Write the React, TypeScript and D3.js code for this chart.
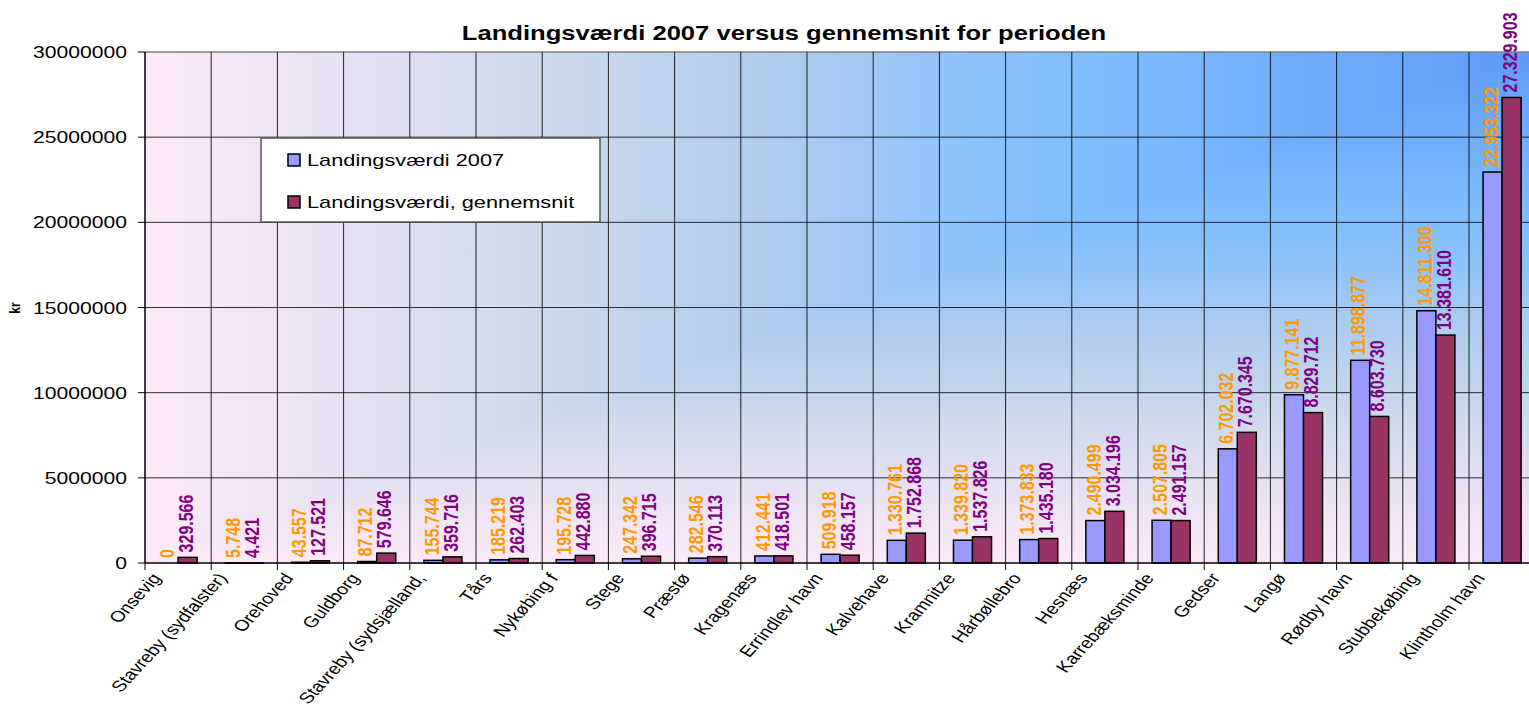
import React from "react";
import * as d3 from "d3";

// Landingsværdi 2007 vs. gennemsnit, grupperet søjlediagram

const categories = [
  "Onsevig",
  "Stavreby (sydfalster)",
  "Orehoved",
  "Guldborg",
  "Stavreby (sydsjælland,",
  "Tårs",
  "Nykøbing f",
  "Stege",
  "Præstø",
  "Kragenæs",
  "Errindlev havn",
  "Kalvehave",
  "Kramnitze",
  "Hårbøllebro",
  "Hesnæs",
  "Karrebæksminde",
  "Gedser",
  "Langø",
  "Rødby havn",
  "Stubbekøbing",
  "Klintholm havn",
];

const values2007 = [
  0, 5748, 43557, 87712, 155744, 185219, 195728, 247342, 282546, 412441, 509918,
  1330761, 1339820, 1373833, 2490499, 2507805, 6702032, 9877141, 11898877,
  14811300, 22953322,
];

const valuesAvg = [
  329566, 4421, 127521, 579646, 359716, 262403, 442880, 396715, 370113, 418501,
  458157, 1752868, 1537826, 1435180, 3034196, 2491157, 7670345, 8829712,
  8603730, 13381610, 27329903,
];

const seriesNames = ["Landingsværdi 2007", "Landingsværdi, gennemsnit"];
const yTicks = [0, 5000000, 10000000, 15000000, 20000000, 25000000, 30000000];

const W = 1529;
const H = 707;
const S = 1.28; // text is stretched horizontally like the source picture
const font = "'Liberation Sans', Arial, sans-serif";

const left = 145;
const top = 52;
const bottom = 563;
const right = 145 + 21 * 66.2;

const barFill = ["#9999FF", "#993366"];
const labelFill = ["#FF9900", "#800080"];

const fmt = (v: number) => d3.format(",")(v).replace(/,/g, ".");

const App = () => {
  const x = d3.scaleBand<string>().domain(categories).range([left, right]);
  const bw = x.bandwidth();
  const xSub = d3
    .scaleBand<number>()
    .domain([0, 1])
    .range([0, bw])
    .paddingOuter(0.74);
  const y = d3.scaleLinear().domain([0, 30000000]).range([bottom, top]);

  const series = [values2007, valuesAvg];
  const boundaries = d3.range(categories.length + 1).map((i) => left + i * bw);

  const pw = right - left;
  const ph = bottom - top;
  const stops = [
    [0, "#5C9CF8"],
    [0.25, "#78B6FD"],
    [0.4, "#8CC2FB"],
    [0.55, "#AFCDEF"],
    [0.7, "#CBD8EC"],
    [0.85, "#E6E1F3"],
    [1, "#FDEAF8"],
  ] as const;

  return (
    <svg
      width={W}
      height={H}
      style={{ position: "absolute", left: 0, top: 0, background: "#fff" }}
    >
      <defs>
        <linearGradient id="gh" x1="1" y1="0" x2="0" y2="0">
          {stops.map(([o, c]) => (
            <stop key={o} offset={o} stopColor={c} />
          ))}
        </linearGradient>
        <linearGradient id="gv" x1="0" y1="0" x2="0" y2="1">
          {stops.map(([o, c]) => (
            <stop key={o} offset={o} stopColor={c} />
          ))}
        </linearGradient>
        <clipPath id="lowerRight">
          <polygon points={`${right + 2},${top - 2} ${right + 2},${bottom} ${left},${bottom} ${left - 2},${bottom + 2}`} />
        </clipPath>
      </defs>

      {/* plot background: gradient from the top right corner */}
      <rect x={left} y={top} width={pw} height={ph} fill="url(#gh)" />
      <rect x={left} y={top} width={pw} height={ph} fill="url(#gv)" clipPath="url(#lowerRight)" />

      {/* grid */}
      {yTicks.slice(1, -1).map((t) => (
        <line key={t} x1={left} x2={right} y1={y(t)} y2={y(t)} stroke="#000" strokeOpacity={0.8} />
      ))}
      <line x1={left} x2={right} y1={y(30000000)} y2={y(30000000)} stroke="#808080" strokeWidth={1.5} />
      {boundaries.slice(1).map((b) => (
        <line key={b} x1={b} x2={b} y1={top} y2={bottom} stroke="#000" strokeOpacity={0.85} />
      ))}

      {/* bars */}
      {series.map((vals, s) =>
        vals.map((v, i) => (
          <rect
            key={`${s}-${i}`}
            x={(x(categories[i]) ?? 0) + (xSub(s) ?? 0)}
            y={y(v)}
            width={xSub.bandwidth()}
            height={bottom - y(v)}
            fill={barFill[s]}
            stroke="#000"
            strokeWidth={1.5}
          />
        ))
      )}

      {/* data labels */}
      {series.map((vals, s) =>
        vals.map((v, i) => {
          const cx = (x(categories[i]) ?? 0) + (xSub(s) ?? 0) + xSub.bandwidth() / 2 - 2;
          return (
            <text
              key={`l${s}-${i}`}
              transform={`translate(${cx},${y(v) - 5}) scale(${S},1) rotate(-90)`}
              dy="0.35em"
              fill={labelFill[s]}
              fontFamily={font}
              fontSize={16}
              fontWeight="bold"
            >
              {fmt(v)}
            </text>
          );
        })
      )}

      {/* axes */}
      <line x1={left} x2={left} y1={top} y2={bottom} stroke="#000" strokeWidth={1.5} />
      <line x1={left} x2={right} y1={bottom} y2={bottom} stroke="#000" strokeWidth={1.5} />
      {yTicks.map((t) => (
        <g key={t}>
          <line x1={left - 7} x2={left} y1={y(t)} y2={y(t)} stroke="#000" />
          <text
            transform={`translate(${left - 18},${y(t) + 6}) scale(${S},1)`}
            textAnchor="end"
            fontFamily={font}
            fontSize={16.5}
          >
            {t}
          </text>
        </g>
      ))}
      {boundaries.map((b) => (
        <line key={b} x1={b} x2={b} y1={bottom} y2={bottom + 7} stroke="#000" />
      ))}
      {categories.map((c) => (
        <text
          key={c}
          transform={`translate(${(x(c) ?? 0) + bw / 2 - 22},${bottom + 12}) scale(${S},1) rotate(-54)`}
          textAnchor="end"
          dy="0.35em"
          fontFamily={font}
          fontSize={15.5}
        >
          {c}
        </text>
      ))}

      <text
        transform={`translate(20,308) scale(${S},1) rotate(-90)`}
        textAnchor="middle"
        fontFamily={font}
        fontSize={12}
        fontWeight="bold"
      >
        kr
      </text>

      {/* title */}
      <text
        transform={`translate(784,40) scale(${S},1)`}
        textAnchor="middle"
        fontFamily={font}
        fontSize={20}
        fontWeight="bold"
      >
        Landingsværdi 2007 versus gennemsnit for perioden
      </text>

      {/* legend */}
      <g>
        <rect x={261} y={138} width={339} height={84} fill="#fff" stroke="#555" strokeWidth={1.5} />
        {seriesNames.map((n, i) => (
          <g key={n} transform={`translate(288,${154 + i * 42})`}>
            <rect width={12} height={12} fill={barFill[i]} stroke="#000" strokeWidth={1.5} />
            <text
              transform={`translate(19,12) scale(${S},1)`}
              fontFamily={font}
              fontSize={17}
            >
              {n}
            </text>
          </g>
        ))}
      </g>
    </svg>
  );
};

export default App;
